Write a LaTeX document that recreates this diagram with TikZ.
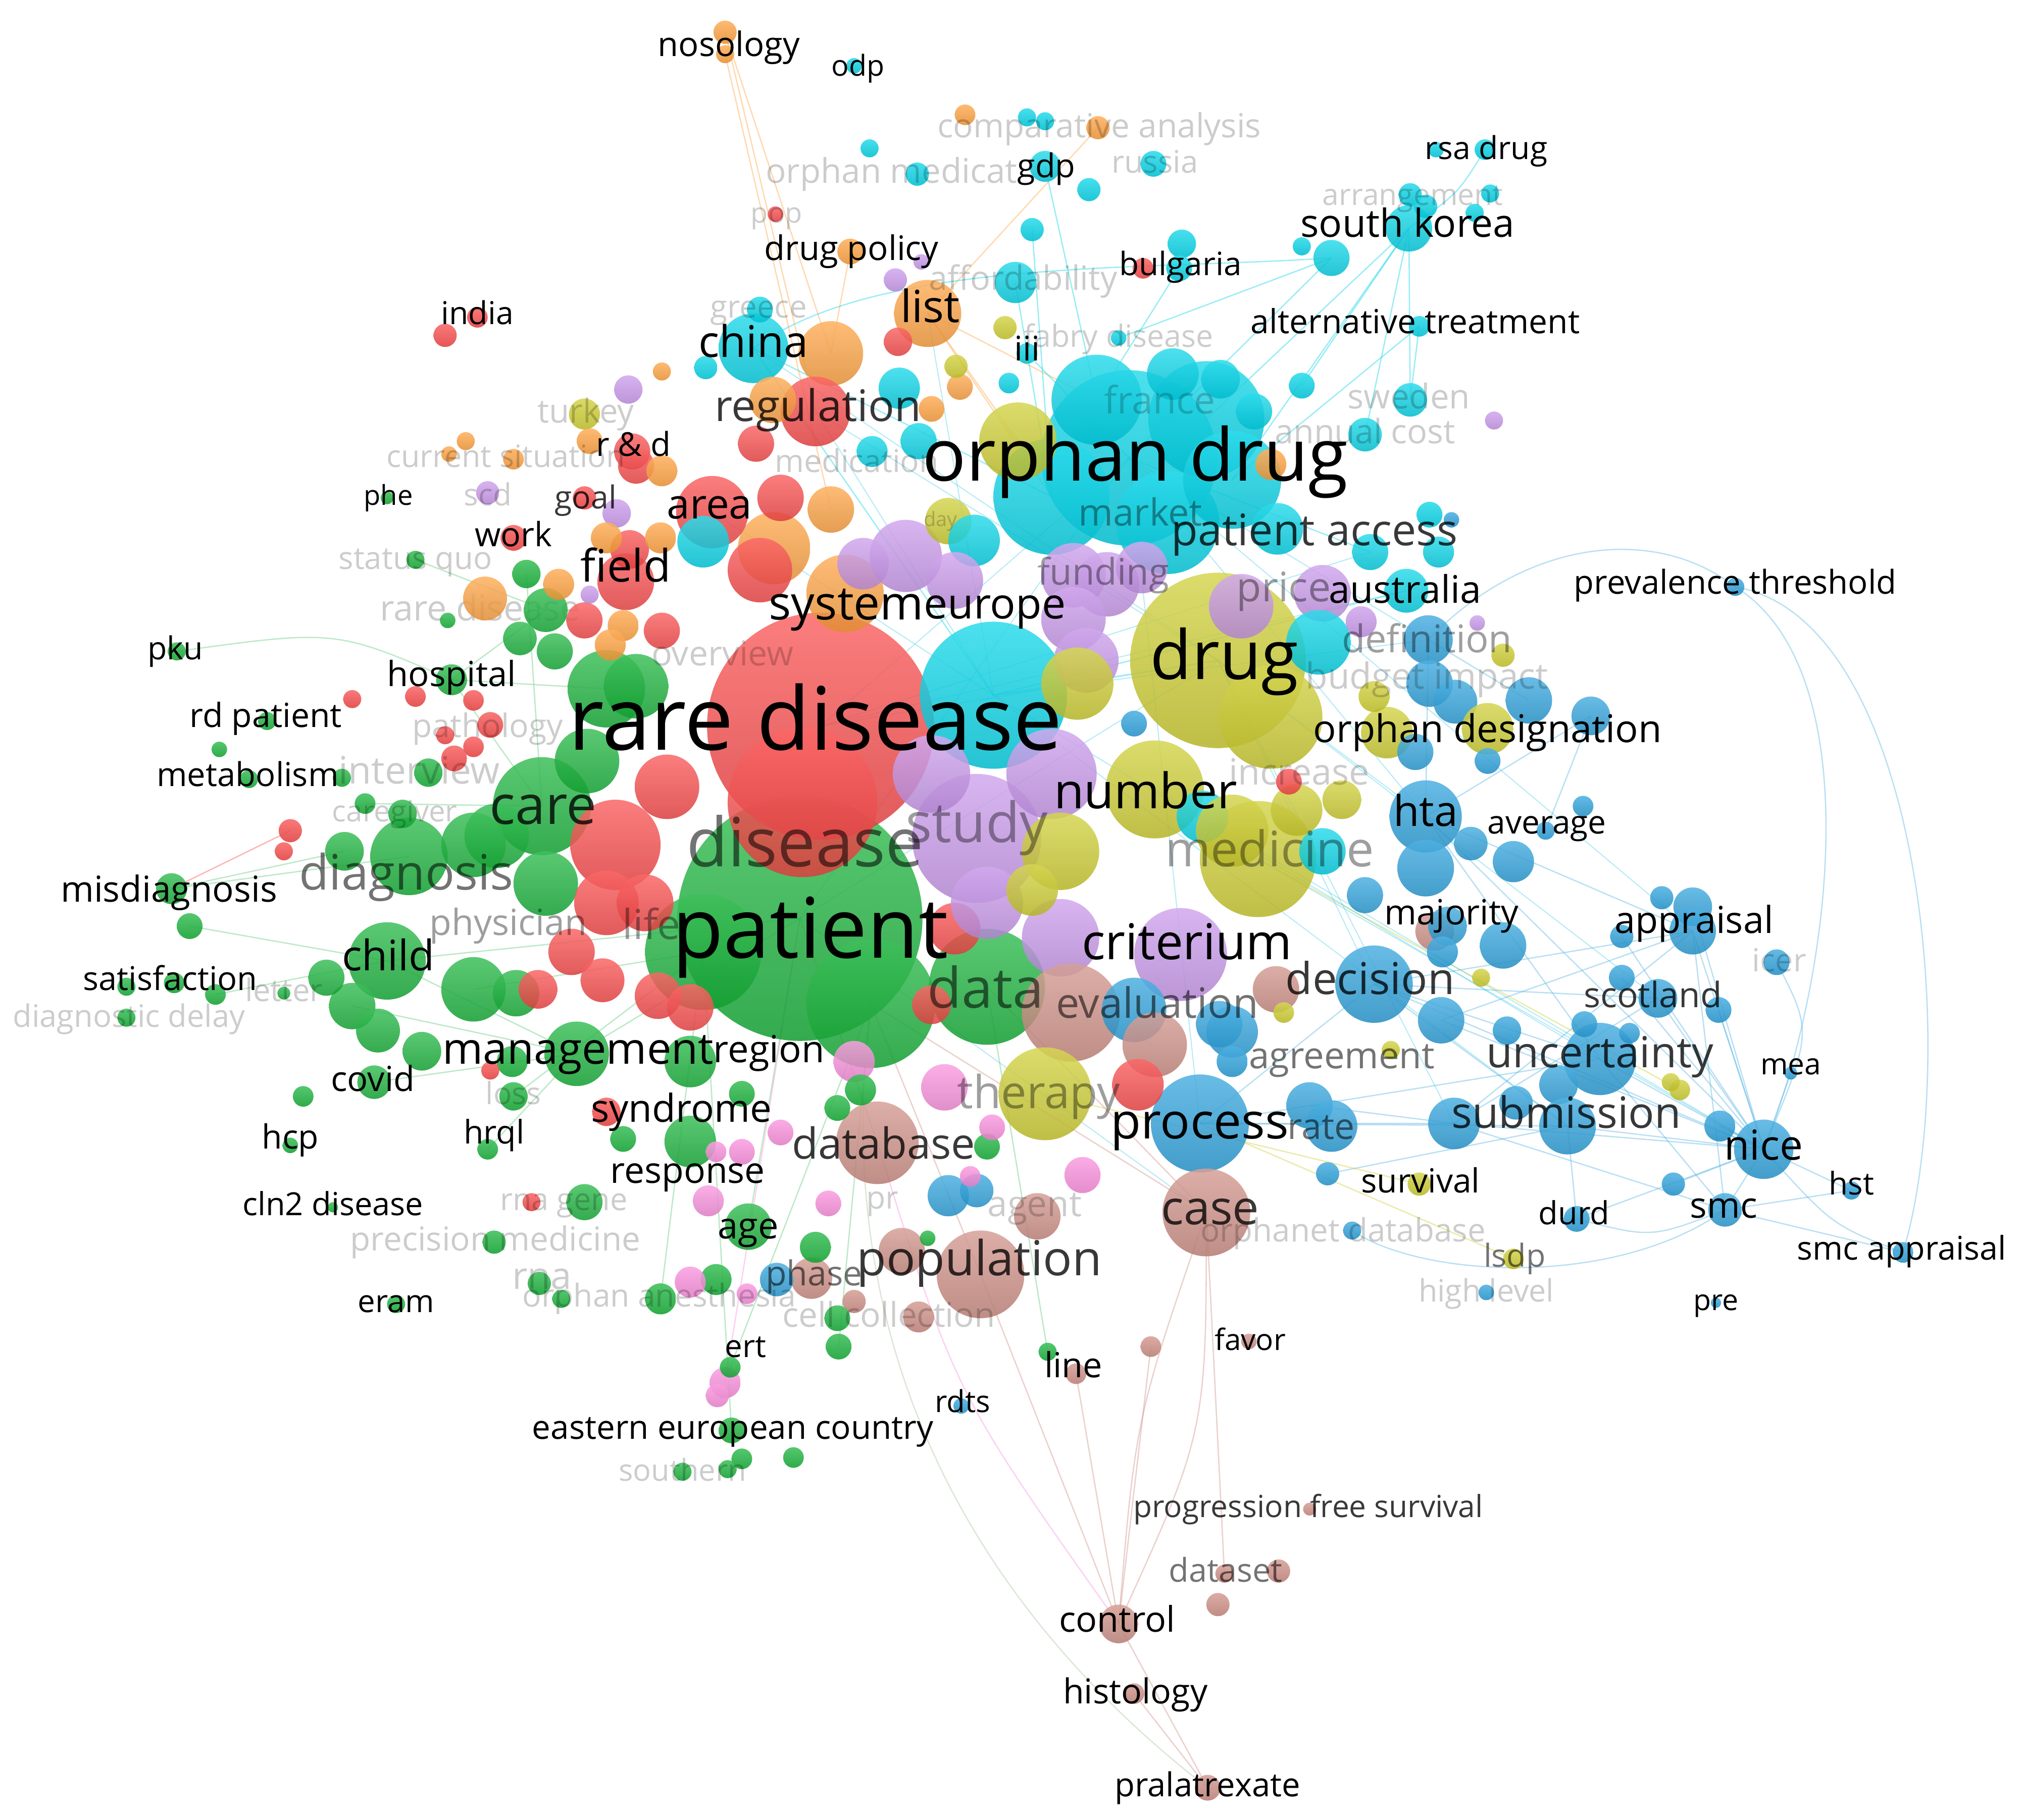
\documentclass[tikz,border=0pt]{standalone}
\usepackage{fontspec}
\setmainfont{Open Sans}
\usepackage{graphicx}
\definecolor{cR}{RGB}{250,70,70}
\definecolor{cG}{RGB}{20,178,55}
\definecolor{cC}{RGB}{0,212,232}
\definecolor{cY}{RGB}{205,205,45}
\definecolor{cP}{RGB}{200,150,235}
\definecolor{cO}{RGB}{255,160,60}
\definecolor{cB}{RGB}{40,160,220}
\definecolor{cN}{RGB}{205,140,130}
\definecolor{cK}{RGB}{250,140,220}
\tikzset{
 lk/.style={text=black,inner sep=0pt},
 ld/.style={text=black,text opacity=0.78,inner sep=0pt},
 lm/.style={text=black,text opacity=0.55,inner sep=0pt},
 lmm/.style={text=black,text opacity=0.38,inner sep=0pt},
 lf/.style={text=black,text opacity=0.2,inner sep=0pt},
 ebase/.style={line width=1pt,draw opacity=0.4},
 eR/.style={ebase,draw=cR},
 eG/.style={ebase,draw=cG!70!white},
 eC/.style={ebase,draw=cC},
 eY/.style={ebase,draw=cY},
 eO/.style={ebase,draw=cO},
 eB/.style={ebase,draw=cB!80!white},
 eN/.style={ebase,draw=cN},
 eK/.style={ebase,draw=cK},
 eGN/.style={ebase,draw=cN!50!cG!60!white},
 eM/.style={line width=0.8pt,draw=cC!60!cB,draw opacity=0.3}
}
\newcommand\lab[6]{\node[#5] (#1) at (#2,#3) {\resizebox{#4pt}{!}{\fontsize{20pt}{24pt}\selectfont #6\vphantom{dg}}};}
\def\LBig{gP/620/712/95/cG,gPb/545/738/45/cG,gPc/675/778/50/cG,gData/765/765/45/cG,
rRD/636/563/88/cR,rRDb/622/622/58/cR,cEur/770/539/57/cC,
cOD/875/355/68/cC,cODb/935/325/45/cC,cODc/815/385/45/cC,cODd/905/405/40/cC,cODe/955/372/38/cC,cODf/850/310/35/cC,
yDrug/944/512/68/cY,yDrugb/985/556/40/cY,pStudy/757/650/50/cP,pStb/722/600/30/cP,pStc/815/600/35/cP,
yNum/895/612/38/cY,yMed/975/666/45/cY,yMedb/822/660/30/cY,pCrit/915/740/36/cP,pCritb/822/727/30/cP,
nEval/830/785/38/cN,yTher/810/848/36/cY,bProc/930/871/38/cB,nCase/935/940/34/cN,nPop/760/988/34/cN,nDB/680/886/32/cN,
gCare/420/625/38/cG,gDiag/317/664/30/cG,gChild/300/745/30/cG,rBig/477/655/35/cR,
bHta/1105/633/28/cB,bDec/1065/763/30/cB,bUnc/1240/821/28/cB,yOlv/789/342/30/cY,oSys/655/460/30/cO,
gBig/470/534/30/cG,oOrr/600/425/28/cO,rArea/552/397/28/cR,pPa/702/431/28/cP}
\def\LMed{oOrgA/644/274/25/cO,oList/719/243/26/cO,cChina/584/270/27/cC,rReg/632/319/27/cR,oOb/599/310/18/cO,
cCa/697/301/16/cC,rRa/586/344/14/cR,cCb/712/342/14/cC,cCc/676/350/12/cC,cCd/787/219/16/cC,rRb/696/265/11/cR,
oOc/744/300/10/cO,cCe/972/319/14/cC,cCf/909/290/20/cC,cCg/946/294/15/cC,oOd/644/395/18/cO,rRc/605/386/18/cR,
cCh/545/420/20/cC,rRd/589/442/25/cR,pPb/669/437/20/cP,yYa/735/404/18/cY,cCi/755/419/20/cC,pPc/740/450/22/cP,
pPd/832/446/25/cP,pPe/858/453/25/cP,pPf/885/440/20/cP,pPg/832/480/25/cP,pPh/842/512/25/cP,yYb/835/530/28/cY,
pPi/1025/460/22/cP,cCj/1022/498/25/cC,pPj/962/470/25/cP,cCk/990/410/20/cC,cCl/932/633/20/cC,yYc/1005/628/20/cY,
yYd/955/644/28/cY,yYe/1040/620/15/cY,cCm/1025/660/18/cC,rRe/740/720/20/cR,pPk/765/700/28/cP,yYf/800/690/20/cY,
rRf/722/779/15/cR,bBa/879/783/25/cB,bBb/945/794/18/cB,nNa/989/767/18/cN,nNb/895/810/25/cN,rRg/882/841/20/cR,
bBc/955/800/20/cB,bBd/1015/857/18/cB,bBe/1032/873/20/cB,kKa/732/843/18/cK,kKb/662/823/16/cK,gGa/535/823/20/cG,
gGb/535/885/20/cG,nNc/804/943/18/cN,nNd/699/970/18/cN,bBf/735/927/16/cB,bBg/757/923/13/cB,gAge/580/951/18/cG,
nNe/629/991/16/cN,bPhase/602/992/13/cB,kKc/549/931/12/cK,rField/485/451/22/cR,rRh/488/426/15/cR,oOe/376/464/17/cO,
gGc/423/473/17/cG,gGd/403/495/13/cG,gGe/430/505/14/cG,gGf/493/532/25/cG,rRi/453/481/14/cR,rRj/513/489/14/cR,
gCareb/385/648/25/cG,gCarec/455/590/25/cG,gDb/367/655/25/cG,gDc/423/685/25/cG,gDd/267/660/15/cG,rRk/517/610/25/cR,
gCb/367/767/25/cG,gCc/400/770/18/cG,gCd/273/780/18/cG,gCe/293/799/17/cG,gCf/327/815/15/cG,gMan/447/817/25/cG,
gCg/253/758/14/cG,rRl/443/738/18/cR,rRm/467/760/17/cR,rRn/510/772/18/cR,rRo/417/767/15/cR,rRp/535/781/18/cR,
gCov/290/839/13/cG,rRq/470/700/25/cR,rRr/500/700/22/cR,bDef/1107/496/19/cB,bBh/1108/530/18/cB,bBi/1128/544/17/cB,
bBj/1185/543/18/cB,bBk/1233/555/15/cB,yODa/1075/568/20/cY,yODb/1153/565/20/cY,bBl/1097/583/14/cB,bBm/1140/654/13/cB,
bBn/1173/668/16/cB,bBo/1105/673/22/cB,bBp/1058/694/14/cB,bBq/1312/703/15/cB,bAppr/1312/722/18/cB,nMaj/1112/722/15/cN,
bBr/1122/718/15/cB,bBs/1165/733/18/cB,bBt/1117/791/18/cB,bScot/1285/774/15/cB,bBu/1208/841/15/cB,bSuba/1127/871/20/cB,
bSubb/1215/873/22/cB,bBv/1175/855/13/cB,bNice/1367/891/23/cB,bSMC/1337/938/13/cB,cAus/1090/458/17/cC,cCn/1062/428/14/cC,
cCo/1115/428/12/cC,cSK/1092/177/18/cC,cSKb/1032/200/14/cC,cSwe/1093/310/13/cC,cAnn/1058/337/13/cC,cGdp/810/129/12/cC,
nCtrl/867/1259/15/cN,gHosp/350/527/12/cG,gMis/133/689/12/cG,rRDs/490/350/14/cR,rRs/493/361/14/cR,gGs/453/932/14/cG}
\def\LSmall{oNos/562/25/9/cO,oNosb/562/42/7/cO,cOdp/662/51/6/cC,oOf/748/89/8/cO,cCp/796/91/7/cC,cCq/810/94/7/cC,
oCmp/851/99/9/cO,cCr/674/115/7/cC,cCs/711/135/9/cC,cCt/894/127/10/cC,cCu/844/147/9/cC,rPop/601/166/6/cR,
cCv/800/178/9/cC,cCw/916/189/11/cC,rRt/886/208/8/cR,cCx/914/208/10/cC,cCy/1009/191/7/cC,oDP/659/195/10/cO,
pPl/714/203/6/cP,pPm/694/217/9/cP,yYg/779/254/9/cY,cCz/867/262/6/cC,cIII/796/274/8/cC,yYh/741/284/9/cY,
cDa/782/297/8/cC,cDb/1009/299/10/cC,cGre/589/240/10/cC,cDc/547/285/9/cC,oOg/722/317/10/cO,cRsaa/1113/116/6/cC,
cRsa/1151/116/8/cC,cDd/1093/151/9/cC,cDe/1155/150/7/cC,cDf/1143/165/7/cC,cDg/1105/160/9/cC,cAlt/1100/253/8/cC,
pPn/1158/326/7/cP,rInd/370/246/8/cR,rIndb/345/260/9/cR,oOh/513/288/7/cO,pPo/487/302/11/cP,yTur/453/321/12/cY,
oOi/361/342/7/cO,oOj/348/352/6/cO,oOk/398/356/8/cO,oOl/457/342/10/cO,oOm/513/365/12/cO,gPhe/300/386/5/cG,
pScd/378/382/9/cP,rGoal/453/386/9/cR,pPp/478/398/11/cP,rWork/398/417/10/cR,oOn/470/417/12/cO,oOo/512/417/12/cO,
gSQ/322/434/7/cG,gGg/408/445/11/cG,oOp/433/453/12/cO,pPq/457/461/7/cP,gGh/347/481/6/cG,oOq/483/485/12/cO,
oOr/473/500/12/cO,gPku/137/505/7/cG,rRu/273/542/7/cR,rRv/322/540/8/cR,rRw/367/543/8/cR,rRx/380/562/10/cR,
rRy/345/570/7/cR,rRz/367/579/8/cR,gRdp/207/559/7/cG,gGi/170/581/6/cG,rSa/352/588/10/cR,gMet/193/604/7/cG,
gGj/265/603/7/cG,gGk/332/599/11/cG,gGl/283/623/8/cG,gGm/312/631/11/cG,rSb/225/644/9/cR,rSc/220/660/7/cR,
gGn/147/718/10/cG,gSata/98/765/7/cG,gSat/135/762/8/cG,gSatb/167/771/8/cG,gDD/98/789/7/cG,gLet/220/770/5/cG,
gGo/235/850/8/cG,gHcp/225/888/6/cG,gHrql/378/891/8/cG,gGp/397/823/12/cG,gLoss/398/850/11/cG,rSd/380/830/7/cR,
rSyn/470/862/11/cR,gGq/483/883/10/cG,gCln/258/936/4/cG,rSe/412/932/7/cR,gPrec/383/963/9/cG,gGr/418/995/9/cG,
gGt/435/1007/7/cG,gEram/307/1011/7/cG,gGu/512/1007/12/cG,kKd/605/878/10/cK,kKe/575/893/10/cK,kKf/555/893/8/cK,
gGv/575/848/10/cG,gGw/667/845/12/cG,gGx/649/859/10/cG,gGy/765/889/10/cG,kKg/769/874/10/cK,kKh/839/911/14/cK,
kKi/752/912/8/cK,kKj/642/933/10/cK,gGz/719/960/6/cG,gHa/632/967/12/cG,gHb/555/992/12/cG,kKk/535/994/12/cK,
kKl/579/1003/8/cK,nNf/662/1009/9/cN,gHc/649/1022/10/cG,nNg/712/1021/12/cN,gHd/650/1044/10/cG,nNh/892/1044/8/cN,
gLine/812/1048/7/cG,nLine/834/1065/8/cN,kKm/562/1072/12/cK,kKn/556/1082/9/cK,gErt/566/1060/8/cG,bRdts/745/1090/6/cB,
gHe/567/1109/10/cG,gHf/575/1131/8/cG,gHg/615/1130/8/cG,gHh/564/1139/7/cG,gHi/529/1141/7/cG,nProg/1015/1170/5/cN,
nDsa/949/1220/7/cN,nDsb/991/1218/9/cN,nDsc/944/1244/9/cN,nHist/879/1313/8/cN,nPral/936/1386/10/cN,nFav/968/1040/6/cN,
cDh/1108/399/10/cC,bBw/1125/403/6/cB,pPr/1055/482/12/cP,pPs/1145/483/6/cP,yYi/1165/508/9/cY,yYj/1065/540/12/cY,
bBx/1153/590/10/cB,bBy/1227/625/8/cB,bAvg/1198/644/7/cB,bBz/1288/696/9/cB,bCa/1118/738/12/cB,bCb/1257/726/9/cB,
bIcer/1377/746/10/cB,yYk/1148/758/7/cY,bCc/1168/799/11/cB,bCd/1257/758/10/cB,bCe/1332/783/10/cB,bCf/1228/794/10/cB,
bCg/1263/801/8/cB,yYl/1078/814/7/cY,yYm/1302/845/8/cY,yYn/1295/839/7/cY,bCh/1333/873/12/cB,bCi/1297/918/9/cB,
ySurv/1100/918/9/cY,bHst/1435/923/7/cB,bDurd/1222/945/10/cB,bOdb/1048/954/7/cB,yLsdp/1173/976/8/cY,bSmca/1475/971/8/cB,
bHL/1152/1002/6/cB,bPre/1330/1010/4/cB,bMea/1388/832/5/cB,bPT/1345/455/7/cB,bCj/1029/910/9/cB,bCk/955/823/12/cB,
bCl/879/561/10/cB,rSf/999/606/10/cR,oOs/985/360/12/cO,yYo/995/785/8/cY}
\begin{document}
\begin{tikzpicture}[x=1pt,y=-1pt]
\useasboundingbox (0,0) rectangle (1568,1411);
\fill[white] (0,0) rectangle (1568,1411);
% coordinates
\foreach \nn/\xx/\yy/\rr/\cc in \LBig {\coordinate (\nn) at (\xx,\yy);}
\foreach \nn/\xx/\yy/\rr/\cc in \LMed {\coordinate (\nn) at (\xx,\yy);}
\foreach \nn/\xx/\yy/\rr/\cc in \LSmall {\coordinate (\nn) at (\xx,\yy);}
% ---------- edges ----------
\draw[eO] (oNos) -- (rReg);
\draw[eO] (oNos) -- (oOrgA);
\draw[eO] (oNosb) -- (oOd);
\draw[eO] (oCmp) -- (oList);
\draw[eO] (oDP) -- (oOrgA);
\draw[eO] (oList) -- (cODc);
\draw[eO] (oList) -- (yOlv);
\draw[eO] (oList) -- (cODf);
\draw[eC] (cGdp) -- (cODf);
\draw[eC] (cCv) -- (cODc);
\draw[eC] (cChina) .. controls (680,200) and (880,210) .. (cSKb);
\draw[eC] (cCz) -- (cSKb);
\draw[eC] (cSK) -- (cODb);
\draw[eC] (cSK) -- (cODe);
\draw[eC] (cSKb) -- (cOD);
\draw[eC] (cRsa) .. controls (1130,150) .. (cSK);
\draw[eC] (cSK) -- (cAnn);
\draw[eC] (cSK) -- (cSwe);
\draw[eC] (cSK) -- (cDb);
\draw[eC] (cAlt) -- (cODe);
\draw[eC] (cCx) -- (cODf);
\draw[eC] (cIII) -- (cOD);
\draw[eC] (cCd) -- (cODc);
\draw[eC] (cChina) -- (cEur);
\draw[eC] (cChina) -- (cODc);
\draw[eC] (cAus) -- (cEur);
\draw[eC] (cCn) -- (cOD);
\draw[eC] (cAlt) -- (cSwe);
\draw[eG] (gPku) .. controls (260,488) .. (gHosp);
\draw[eG] (gHosp) -- (gBig);
\draw[eG] (gHosp) -- (gCare);
\draw[eG] (gHosp) -- (gGc);
\draw[eR] (gMis) -- (rSb);
\draw[eG] (gMis) -- (gDiag);
\draw[eG] (gMis) -- (gDd);
\draw[eG] (gGn) -- (gChild);
\draw[eG] (gSatb) -- (gChild);
\draw[eG] (gChild) -- (gP);
\draw[eG] (gMan) -- (gP);
\draw[eG] (gCov) -- (gMan);
\draw[eG] (gHrql) -- (gMan);
\draw[eG] (gLoss) -- (gPb);
\draw[eG] (gAge) -- (gP);
\draw[eG] (gErt) -- (gPc);
\draw[eG] (gHd) -- (gPc);
\draw[eG] (gLine) -- (gData);
\draw[eG] (gHe) -- (gPb);
\draw[eG] (gGu) -- (gPb);
\draw[eG] (gGg) -- (gCare);
\draw[eG] (gSQ) -- (gGc);
\draw[eG] (gGl) -- (gCare);
\draw[eG] (gCd) -- (gMan);
\draw[eG] (gChild) -- (gMan);
\draw[eG] (gCb) -- (gPb);
\draw[eB] (bPT) .. controls (1280,405) and (1180,420) .. (bDef);
\draw[eB] (bPT) .. controls (1490,480) and (1520,820) .. (bSmca);
\draw[eB] (bPT) .. controls (1450,520) and (1420,760) .. (bNice);
\draw[eB] (bIcer) .. controls (1405,800) .. (bNice);
\foreach \t in {bAppr,bScot,bUnc,bSuba,bSubb,bSMC,bHst,bDurd,bDec,bHta,bBq,bCe,bMea,bBt,bCb,bCd,bCh,bCi}{\draw[eB] (bNice) -- (\t);}
\draw[eB] (bNice) .. controls (1420,950) .. (bSmca);
\draw[eB] (bSMC) -- (bSmca);
\draw[eB] (bSMC) .. controls (1280,960) .. (bDurd);
\draw[eB] (bSMC) .. controls (1250,1000) and (1100,990) .. (bOdb);
\draw[eB] (bSMC) -- (bSuba);
\draw[eB] (bSMC) -- (bUnc);
\draw[eB] (bSMC) -- (bAppr);
\draw[eB] (bAppr) -- (bSuba);
\draw[eB] (bAppr) -- (bDec);
\draw[eB] (bAppr) -- (bHta);
\draw[eB] (bAppr) -- (bBt);
\draw[eB] (bUnc) -- (bDec);
\draw[eB] (bUnc) -- (bHta);
\draw[eB] (bUnc) -- (bProc);
\draw[eB] (bSuba) -- (bProc);
\draw[eB] (bSubb) -- (bDec);
\draw[eB] (bSuba) -- (bBd);
\draw[eB] (bDurd) -- (bSubb);
\draw[eB] (bScot) -- (bSuba);
\draw[eB] (bScot) -- (bDec);
\draw[eB] (bHta) -- (bDef);
\draw[eB] (bHta) -- (bBk);
\draw[eB] (bBk) -- (bAvg);
\draw[eB] (bDef) -- (bBj);
\draw[eB] (bDec) -- (bProc);
\draw[eB] (bHst) -- (bSMC);
\draw[eB] (bSubb) -- (bProc);
\draw[eB] (bCj) -- (bSubb);
\draw[eY] (yLsdp) -- (bProc);
\draw[eY] (ySurv) -- (yTher);
\draw[eY] (yYm) -- (yMed);
\draw[eN] (nPop) -- (nCtrl);
\draw[eN] (nCase) .. controls (880,1100) .. (nCtrl);
\draw[eN] (nCase) .. controls (935,1110) .. (nCtrl);
\draw[eN] (nLine) -- (nCtrl);
\draw[eN] (nNh) -- (nCtrl);
\draw[eN] (nCtrl) -- (nPral);
\draw[eN] (nHist) -- (nPral);
\draw[eK] (nDB) .. controls (740,1080) .. (nCtrl);
\draw[eGN] (gPc) .. controls (640,1050) and (760,1250) .. (nPral);
\draw[eN] (nCase) -- (gData);
\draw[eN] (nCase) -- (gPc);
\draw[eN] (nPop) -- (gPc);
\draw[eN] (nDB) -- (gP);
\draw[eN] (nCase) -- (nDsa);
\draw[eK] (kKm) -- (gP);
\foreach \a/\b in {rRD/cOD,rRD/yDrug,cEur/yDrug,gP/yDrug,gP/cOD,rReg/yDrug,rArea/cEur,oList/cEur,cAus/rRD,cOD/bProc,yDrug/bDec,yDrug/bHta,cOD/bHta,yNum/bNice,cEur/bUnc,yDrug/bSuba,cOD/bAppr,yMed/bNice,gP/nCase,cChina/yDrug,rReg/cEur,bDef/cEur,cCn/rRD,cOD/bDef,yDrug/bScot,cEur/bSubb}{\draw[eM] (\a) -- (\b);}
% faint label hidden partly by bubbles
\lab{lRDis}{372}{474}{155}{lf}{rare disease}
% ---------- bubbles ----------
\foreach \nn/\xx/\yy/\rr/\cc in \LBig {\shade[top color=\cc!82!white,bottom color=\cc!88!black,fill opacity=0.85] (\xx,\yy) circle[radius=\rr*1pt];}
\foreach \nn/\xx/\yy/\rr/\cc in \LMed {\shade[top color=\cc!82!white,bottom color=\cc!88!black,fill opacity=0.85] (\xx,\yy) circle[radius=\rr*1pt];}
\foreach \nn/\xx/\yy/\rr/\cc in \LSmall {\shade[top color=\cc!82!white,bottom color=\cc!90!black,fill opacity=0.88] (\xx,\yy) circle[radius=\rr*1pt];}
% ---------- labels ----------
\lab{lNos}{565}{37}{110}{lk}{nosology}
\lab{lOdp}{665}{53}{41}{lk}{odp}
\lab{lCmp}{852}{100}{251}{lf}{comparative analysis}
\lab{lOmed}{691}{135}{195}{lf}{orphan medicat}
\lab{lGdp}{811}{131}{45}{lk}{gdp}
\lab{lRus}{895}{128}{67}{lf}{russia}
\lab{lRsa}{1152}{117}{95}{lk}{rsa drug}
\lab{lArr}{1095}{153}{140}{lf}{arrangement}
\lab{lPop}{602}{167}{40}{lf}{pop}
\lab{lSK}{1091}{176}{166}{lk}{south korea}
\lab{lDP}{660}{195}{135}{lk}{drug policy}
\lab{lBul}{915}{207}{95}{lk}{bulgaria}
\lab{lAff}{793}{218}{146}{lf}{affordability}
\lab{lInd}{370}{245}{56}{lk}{india}
\lab{lAlt}{1097}{252}{255}{lk}{alternative treatment}
\lab{lGre}{588}{240}{75}{lf}{greece}
\lab{lChi}{584}{268}{85}{lk}{china}
\lab{lList}{721}{241}{46}{lk}{list}
\lab{lFab}{867}{263}{147}{lf}{fabry disease}
\lab{lIII}{796}{273}{20}{lk}{iii}
\lab{lTur}{454}{321}{75}{lf}{turkey}
\lab{lReg}{634}{318}{160}{ld}{regulation}
\lab{lFra}{899}{313}{86}{lf}{france}
\lab{lSwe}{1092}{310}{95}{lf}{sweden}
\lab{lAnn}{1058}{337}{140}{lf}{annual cost}
\lab{lCur}{392}{356}{185}{lf}{current situation}
\lab{lMedi}{664}{360}{127}{lf}{medication}
\lab{lOD}{880}{358}{330}{lk}{orphan drug}
\lab{lRD}{491}{347}{58}{lk}{r \& d}
\lab{lPhe}{301}{386}{38}{lk}{phe}
\lab{lScd}{378}{386}{37}{lf}{scd}
\lab{lGoal}{454}{388}{48}{ld}{goal}
\lab{lArea}{550}{394}{66}{lk}{area}
\lab{lDay}{729}{404}{26}{lf}{day}
\lab{lMkt}{884}{400}{96}{lmm}{market}
\lab{lPA}{1019}{414}{222}{ld}{patient access}
\lab{lWork}{398}{417}{60}{lk}{work}
\lab{lSQ}{322}{435}{119}{lf}{status quo}
\lab{lField}{485}{442}{70}{lk}{field}
\lab{lFund}{855}{446}{102}{lmm}{funding}
\lab{lPrice}{995}{458}{73}{lmm}{price}
\lab{lAus}{1089}{460}{118}{lk}{australia}
\lab{lPT}{1345}{454}{250}{lk}{prevalence threshold}
\lab{lSys}{656}{471}{120}{lk}{system}
\lab{lEur}{771}{471}{110}{lk}{europe}
\lab{lDrug}{949}{513}{115}{lk}{drug}
\lab{lDef}{1106}{498}{132}{lmm}{definition}
\lab{lOvw}{560}{509}{110}{lf}{overview}
\lab{lHosp}{350}{525}{100}{lk}{hospital}
\lab{lBud}{1106}{527}{188}{lf}{budget impact}
\lab{lPku}{136}{505}{43}{lk}{pku}
\lab{lRare}{632}{564}{383}{lk}{rare disease}
\lab{lRdp}{206}{557}{118}{lk}{rd patient}
\lab{lPath}{378}{565}{117}{lf}{pathology}
\lab{lODes}{1153}{568}{270}{lk}{orphan designation}
\lab{lMet}{192}{603}{141}{lk}{metabolism}
\lab{lInt}{325}{600}{125}{lf}{interview}
\lab{lInc}{1007}{601}{109}{lf}{increase}
\lab{lCg}{306}{631}{97}{lf}{caregiver}
\lab{lCare}{421}{628}{83}{ld}{care}
\lab{lNum}{888}{617}{142}{lk}{number}
\lab{lStudy}{757}{642}{110}{lmm}{study}
\lab{lHta}{1105}{632}{50}{lk}{hta}
\lab{lAvg}{1199}{640}{92}{lk}{average}
\lab{lDis}{624}{658}{184}{lm}{disease}
\lab{lMed}{984}{662}{162}{lmm}{medicine}
\lab{lDiag}{315}{680}{166}{lm}{diagnosis}
\lab{lMis}{131}{692}{168}{lk}{misdiagnosis}
\lab{lPhys}{394}{718}{122}{lmm}{physician}
\lab{lLife}{505}{720}{45}{lmm}{life}
\lab{lMaj}{1125}{710}{104}{lk}{majority}
\lab{lAppr}{1313}{716}{123}{lk}{appraisal}
\lab{lPat}{628}{726}{214}{lk}{patient}
\lab{lCrit}{920}{734}{163}{lk}{criterium}
\lab{lIcer}{1379}{747}{42}{lf}{icer}
\lab{lChild}{301}{744}{72}{lk}{child}
\lab{lData}{764}{770}{90}{lm}{data}
\lab{lEval}{897}{781}{157}{lm}{evaluation}
\lab{lDec}{1062}{762}{131}{ld}{decision}
\lab{lScot}{1281}{774}{107}{ld}{scotland}
\lab{lSat}{132}{761}{135}{lk}{satisfaction}
\lab{lLet}{220}{770}{60}{lf}{letter}
\lab{lDD}{100}{790}{180}{lf}{diagnostic delay}
\lab{lMan}{448}{816}{210}{lk}{management}
\lab{lRegn}{596}{816}{86}{lk}{region}
\lab{lAgr}{1040}{821}{144}{lm}{agreement}
\lab{lUnc}{1240}{819}{176}{ld}{uncertainty}
\lab{lMea}{1388}{827}{47}{lk}{mea}
\lab{lCov}{289}{839}{65}{lk}{covid}
\lab{lSyn}{528}{862}{140}{lk}{syndrome}
\lab{lTher}{805}{850}{126}{lmm}{therapy}
\lab{lProc}{930}{873}{138}{lk}{process}
\lab{lRate}{1024}{876}{52}{lm}{rate}
\lab{lSub}{1214}{866}{178}{ld}{submission}
\lab{lNice}{1367}{891}{61}{lk}{nice}
\lab{lHcp}{225}{884}{44}{lk}{hcp}
\lab{lHrql}{383}{880}{47}{lk}{hrql}
\lab{lLoss}{398}{850}{43}{lf}{loss}
\lab{lDB}{685}{890}{142}{ld}{database}
\lab{lResp}{533}{910}{120}{lk}{response}
\lab{lSurv}{1101}{918}{92}{lk}{survival}
\lab{lHst}{1435}{920}{35}{lk}{hst}
\lab{lCln}{258}{936}{140}{lk}{cln2 disease}
\lab{lRna}{437}{932}{99}{lf}{rna gene}
\lab{lAgent}{802}{936}{73}{lf}{agent}
\lab{lPr}{684}{931}{25}{lf}{pr}
\lab{lCase}{938}{940}{76}{ld}{case}
\lab{lDurd}{1220}{943}{55}{lk}{durd}
\lab{lSmc}{1336}{937}{52}{lk}{smc}
\lab{lOdb}{1041}{956}{221}{lf}{orphanet database}
\lab{lSmca}{1474}{970}{162}{lk}{smc appraisal}
\lab{lPrec}{384}{963}{225}{lf}{precision medicine}
\lab{lAge}{580}{953}{47}{lk}{age}
\lab{lPopu}{759}{979}{190}{ld}{population}
\lab{lLsdp}{1174}{976}{48}{lm}{lsdp}
\lab{lHL}{1152}{1003}{105}{lf}{high level}
\lab{lPre}{1330}{1010}{35}{lk}{pre}
\lab{lEram}{307}{1011}{59}{lk}{eram}
\lab{lRnab}{420}{992}{46}{lf}{rna}
\lab{lOan}{511}{1007}{212}{lf}{orphan anesthesia}
\lab{lPhase}{631}{990}{75}{lm}{phase}
\lab{lCell}{689}{1022}{165}{lf}{cell collection}
\lab{lFav}{969}{1041}{55}{lk}{favor}
\lab{lErt}{578}{1046}{32}{lk}{ert}
\lab{lLine}{832}{1061}{45}{lk}{line}
\lab{lRdts}{746}{1089}{43}{lk}{rdts}
\lab{lEEC}{568}{1109}{311}{lk}{eastern european country}
\lab{lSouth}{529}{1142}{99}{lf}{southern}
\lab{lPFS}{1014}{1170}{271}{ld}{progression free survival}
\lab{lDset}{950}{1220}{88}{lm}{dataset}
\lab{lCtrl}{866}{1258}{90}{lk}{control}
\lab{lHist}{880}{1314}{112}{lk}{histology}
\lab{lPral}{936}{1386}{144}{lk}{pralatrexate}
\end{tikzpicture}
\end{document}
